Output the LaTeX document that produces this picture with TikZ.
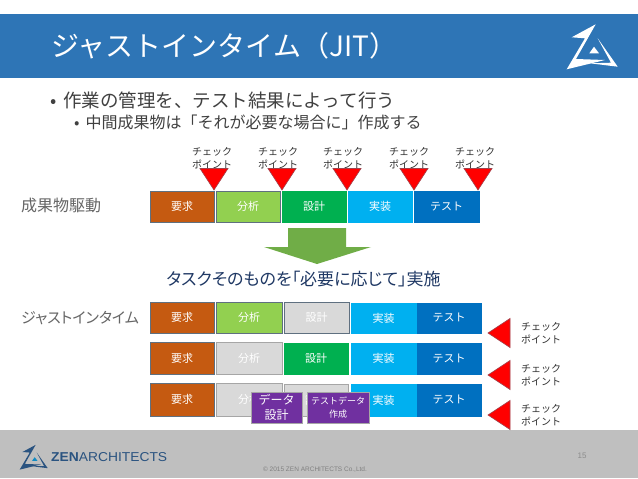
\documentclass[tikz,border=0pt]{standalone}
\usepackage{fontspec}
\setmainfont{Noto Sans CJK JP}
\newfontfamily\cjkp[RawFeature=+palt]{Noto Sans CJK JP}
\newfontfamily\lat{Liberation Sans}
\definecolor{band}{HTML}{2E75B6}
\definecolor{foot}{HTML}{BFBFBF}
\definecolor{cOr}{HTML}{C55A11}
\definecolor{cLg}{HTML}{92D050}
\definecolor{cGr}{HTML}{00B050}
\definecolor{cSk}{HTML}{00B0F0}
\definecolor{cBl}{HTML}{0070C0}
\definecolor{cGy}{HTML}{D9D9D9}
\definecolor{cPu}{HTML}{7030A0}
\definecolor{edge}{HTML}{5F7080}
\definecolor{edgeg}{HTML}{A6A6A6}
\definecolor{navy}{HTML}{1F3864}
\definecolor{logob}{HTML}{2A5380}
\definecolor{arrowg}{HTML}{70AD47}
\tikzset{
  x=1pt,y=-1pt,
  bx/.style={inner sep=0pt,outer sep=0pt,line width=1pt,text=white,font=\fontsize{11}{13}\selectfont,align=center},
  chk/.style={inner sep=0pt,text=black!80,font=\fontsize{10}{13}\selectfont,align=center},
  chkr/.style={chk,anchor=west},
  mark down/.style={fill=red,draw=edge!60!red,line width=.6pt},
  blabel/.style={inner sep=0pt,anchor=west,text=black!60,font=\cjkp\fontsize{15}{18}\selectfont},
}
% name, x1, y1, x2, y2, fill, edge, text, extra
\newcommand{\bxx}[9][]{\node[bx,#1,fill=#7,draw=#8,minimum width={(#5-#3)*1pt},minimum height={(#6-#4)*1pt}] (#2) at ({(#3+#5)/2},{(#4+#6)/2}) {#9};}
\newcommand{\zenlogo}[2]{%
  \fill[#1] (21.7,27.3) -- (45.7,14.3) -- (26,49) -- (55,50) -- (16.7,59.3) -- (35,28.3) -- cycle;
  \fill[#1] (47.7,28.3) -- (67.7,56.7) -- (40,53.3) -- (61,52.7) -- cycle;
  \fill[#2] (44,36.7) -- (49,43.3) -- (39.3,43.3) -- cycle;
}
\begin{document}
\begin{tikzpicture}
\useasboundingbox (0,0) rectangle (638,479);
\fill[white] (0,0) rectangle (638,479);
\fill[band] (0,14) rectangle (638,78);
\fill[foot] (0,430) rectangle (638,478);
\node[inner sep=0pt,anchor=west,text=white,font=\fontsize{28}{32}\selectfont] (title) at (51,46) {ジャストインタイム（JIT）};
\begin{scope}[shift={(550,10)}]\zenlogo{white}{white}\end{scope}
\node[inner sep=0pt,anchor=west,text=black!75,font=\fontsize{18.5}{22}\selectfont] (b1) at (50,100) {•\hspace{7pt}作業の管理を、テスト結果によって行う};
\node[inner sep=0pt,anchor=west,text=black!75,font=\fontsize{16}{20}\selectfont] (b2) at (74,122) {•\hspace{6pt}中間成果物は「それが必要な場合に」作成する};
% check labels top
\node[chk] (c1) at (212,158) {チェック\\ポイント};
\node[chk] (c2) at (278,158) {チェック\\ポイント};
\node[chk] (c3) at (343,158) {チェック\\ポイント};
\node[chk] (c4) at (409,158) {チェック\\ポイント};
\node[chk] (c5) at (475,158) {チェック\\ポイント};
\foreach \m in {214,282,347,414,478}{
  \filldraw[mark down] (\m-14,168.5) -- (\m+14,168.5) -- (\m,190) -- cycle;
}
\node[blabel,font=\fontsize{16}{18}\selectfont] (l1) at (21,205) {成果物駆動};
\node[blabel] (l2) at (21,318) {ジャストインタイム};
% row 1
\bxx{a1}{150}{191}{214}{222}{cOr}{edge}{要求}
\bxx{a2}{216}{191}{280}{222}{cLg}{edge}{分析}
\bxx{a3}{282}{191}{346}{222}{cGr}{cGr}{設計}
\bxx{a4}{348}{191}{412}{222}{cSk}{cSk}{実装}
\bxx{a5}{414}{191}{479}{222}{cBl}{cBl}{テスト}
% arrow
\fill[arrowg] (288,228) -- (346,228) -- (346,247) -- (371,247) -- (317,264) -- (264,247) -- (288,247) -- cycle;
\node[inner sep=0pt,text=navy,font=\cjkp\fontsize{17}{20}\selectfont] (mid) at (303.5,279) {タスクそのものを「必要に応じて」実施};
% row 2
\bxx{b1a}{150}{302}{214}{333}{cOr}{edge}{要求}
\bxx{b2a}{216}{302}{282}{333}{cLg}{edge}{分析}
\bxx{b3a}{284}{302}{349}{333}{cGy}{edge}{設計}
\bxx{b4a}{351}{303}{416}{333}{cSk}{cSk}{実装}
\bxx{b5a}{417}{303}{481}{333}{cBl}{cBl}{テスト}
% row 3
\bxx{c1a}{150}{342}{214}{374}{cOr}{edge}{要求}
\bxx{c2a}{216}{342}{282}{374}{cGy}{edgeg}{分析}
\bxx{c3a}{284}{343}{348}{374}{cGr}{cGr}{設計}
\bxx{c4a}{351}{343}{416}{374}{cSk}{cSk}{実装}
\bxx{c5a}{417}{343}{481}{374}{cBl}{cBl}{テスト}
% row 4
\bxx{d1a}{150}{383}{214}{416}{cOr}{edge}{要求}
\bxx{d2a}{216}{383}{282}{416}{cGy}{edgeg}{分析}
\bxx{d3a}{284}{384}{348}{416}{cGy}{edgeg}{設計}
\bxx{d4a}{351}{384}{416}{416}{cSk}{cSk}{実装}
\bxx{d5a}{417}{384}{481}{416}{cBl}{cBl}{テスト}
% purple
\bxx[font=\fontsize{12}{14.5}\selectfont]{p1}{251}{392}{302}{423}{cPu}{edgeg}{データ\\設計}
\bxx[font=\fontsize{9}{13}\selectfont]{p2}{307}{392}{369}{423}{cPu}{edgeg}{テストデータ\\作成}
% right marks
\foreach \m in {333,375,415}{
  \filldraw[mark down] (510,\m-14.5) -- (510,\m+14.5) -- (488,\m) -- cycle;
}
\node[chkr] (r1) at (521,333) {チェック\\ポイント};
\node[chkr] (r2) at (521,375) {チェック\\ポイント};
\node[chkr] (r3) at (521,415) {チェック\\ポイント};
% footer
\node[inner sep=0pt,text=black!45,font=\lat\fontsize{8}{10}\selectfont] (pg) at (582,456) {15};
\begin{scope}[shift={(10.5,437)},scale=.55]\zenlogo{logob}{cSk!60!logob}\end{scope}
\node[inner sep=0pt,anchor=west,text=logob] (zen) at (51,457) {\resizebox{116pt}{9pt}{\lat\textbf{ZEN}ARCHITECTS}};
\node[inner sep=0pt,text=black!50,font=\lat\fontsize{6.5}{8}\selectfont] (copy) at (315,470) {© 2015 ZEN ARCHITECTS Co.,Ltd.};
\end{tikzpicture}
\end{document}
